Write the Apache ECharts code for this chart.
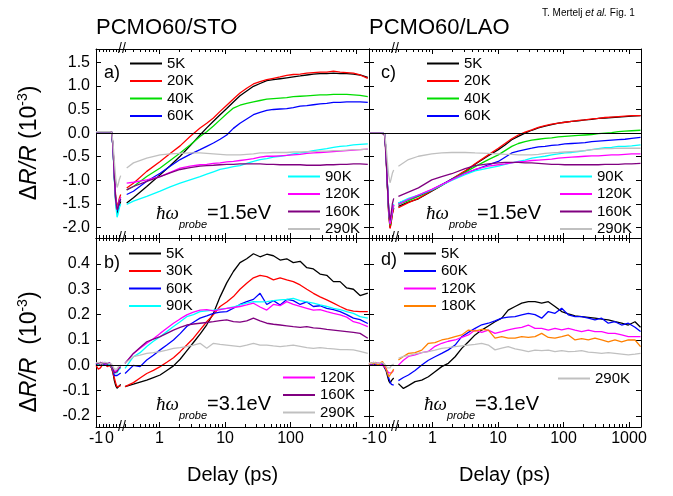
<!DOCTYPE html>
<html><head><meta charset="utf-8">
<script src="https://cdn.jsdelivr.net/npm/echarts@6/dist/echarts.min.js"></script>
<style>html,body{margin:0;padding:0;background:#fff}#c{width:673px;height:496px}</style>
</head><body><div id="c"></div>
<script>
// ---------------- DATA ----------------
// tick labels
const yTicksTop = [-2, -1.5, -1, -0.5, 0, 0.5, 1, 1.5];
const yTicksBot = [-0.2, -0.1, 0, 0.1, 0.2, 0.3, 0.4];
const xLinLabels = [-1, 0];
const xLinTicks = [-1, -0.75, -0.5, -0.25, 0, 0.25, 0.5, 0.75];
const xLogLabelsLeft = [1, 10, 100];
const xLogLabelsRight = [1, 10, 100, 1000];
const xLogMajor = [1, 10, 100, 1000];

// delay grids (ps)
const tLinAC = [-1, -0.8, -0.6, -0.4, -0.2, 0, 0.16, 0.26, 0.36, 0.46, 0.56, 0.63, 0.73, 0.83];
const tLinBD = [-1, -0.83, -0.67, -0.5, -0.33, -0.17, 0, 0.16, 0.26, 0.36, 0.46, 0.56, 0.66, 0.83];
const tLogA = [0.315,0.399,0.637,1.02,1.45,2.06,2.92,4.15,5.25,6.64,8.39,10.6,13.4,16.9,21.4,27.1,34.2,43.3,54.7,69.2,87.4,110,140,177,223,282,357,451,570,720,910,1151,1510];
const tLogB = [0.297,0.399,0.504,0.637,0.805,1.02,1.29,1.63,2.06,2.60,3.29,4.15,5.25,6.64,8.39,10.6,13.4,16.9,21.4,27.1,34.2,43.3,54.7,69.2,87.4,110,140,177,223,282,357,451,570,720,910,1151,1510];
const tLogC = [0.301,0.428,0.608,0.971,1.38,1.96,3.14,4.46,7.11,10.1,12.8,16.2,20.4,25.8,32.7,41.3,52.2,65.9,83.4,105,133,168,213,269,340,430,543,687,868,1099,1500];
const tLogD = [0.301,0.359,0.428,0.541,0.684,0.863,1.09,1.38,1.74,2.21,2.79,3.53,4.46,5.63,7.11,8.99,11.4,14.3,18.2,23.0,29.0,36.7,46.4,58.6,74.1,93.8,118.5,150,189,239,302,382,483,611,772,976,1236,1500];

// Panel a) PCMO60/STO, 1.5 eV
const aLin5K   = [0.03,0.03,0.03,0.03,0.03,0.03,0.02,-0.3,-0.95,-1.45,-1.70,-1.65,-1.52,-1.45];
const aLin20K  = [0.03,0.03,0.03,0.03,0.03,0.03,0.02,-0.28,-0.88,-1.35,-1.55,-1.5,-1.38,-1.3];
const aLin40K  = [0.03,0.03,0.03,0.03,0.03,0.03,0.02,-0.3,-0.9,-1.4,-1.62,-1.58,-1.42,-1.35];
const aLin60K  = [0.03,0.03,0.03,0.03,0.03,0.03,0.02,-0.3,-0.92,-1.42,-1.65,-1.6,-1.46,-1.4];
const aLin90K  = [0.03,0.03,0.03,0.03,0.03,0.03,0.02,-0.32,-0.98,-1.5,-1.78,-1.72,-1.58,-1.5];
const aLin120K = [0.03,0.03,0.03,0.03,0.03,0.03,0.02,-0.3,-0.9,-1.4,-1.6,-1.55,-1.42,-1.35];
const aLin160K = [0.03,0.03,0.03,0.03,0.03,0.03,0.02,-0.3,-0.92,-1.42,-1.62,-1.57,-1.45,-1.4];
const aLin290K = [0.03,0.03,0.03,0.03,0.03,0.03,0.02,-0.2,-0.6,-0.95,-1.15,-1.1,-0.98,-0.9];
const aLog5K   = [-1.48,-1.37,-1.13,-0.88,-0.69,-0.49,-0.27,-0.04,0.11,0.25,0.39,0.52,0.66,0.79,0.89,0.99,1.05,1.11,1.13,1.15,1.17,1.19,1.21,1.23,1.25,1.26,1.26,1.27,1.26,1.26,1.25,1.23,1.18];
const aLog20K  = [-1.16,-1.06,-0.81,-0.60,-0.43,-0.27,-0.07,0.11,0.21,0.32,0.46,0.59,0.72,0.85,0.95,1.04,1.09,1.13,1.16,1.19,1.22,1.24,1.25,1.27,1.28,1.29,1.29,1.31,1.29,1.28,1.27,1.23,1.16];
const aLog40K  = [-1.20,-1.13,-0.92,-0.74,-0.58,-0.42,-0.25,-0.07,0.03,0.15,0.28,0.41,0.53,0.59,0.63,0.66,0.69,0.72,0.73,0.74,0.75,0.77,0.78,0.79,0.80,0.81,0.81,0.82,0.82,0.82,0.81,0.80,0.77];
const aLog60K  = [-1.30,-1.23,-1.02,-0.85,-0.70,-0.56,-0.45,-0.35,-0.28,-0.21,-0.13,-0.04,0.10,0.21,0.30,0.39,0.44,0.48,0.50,0.51,0.52,0.54,0.57,0.58,0.60,0.62,0.63,0.65,0.65,0.66,0.66,0.66,0.65];
const aLog90K  = [-1.51,-1.44,-1.34,-1.23,-1.14,-1.06,-0.99,-0.92,-0.87,-0.82,-0.77,-0.74,-0.71,-0.69,-0.64,-0.60,-0.56,-0.54,-0.51,-0.49,-0.47,-0.44,-0.42,-0.40,-0.37,-0.35,-0.33,-0.30,-0.28,-0.27,-0.25,-0.24,-0.23];
const aLog120K = [-1.06,-1.04,-0.99,-0.92,-0.83,-0.74,-0.70,-0.67,-0.66,-0.64,-0.63,-0.61,-0.60,-0.58,-0.56,-0.54,-0.51,-0.49,-0.49,-0.48,-0.47,-0.46,-0.45,-0.43,-0.42,-0.41,-0.40,-0.39,-0.38,-0.37,-0.36,-0.35,-0.34];
const aLog160K = [-1.20,-1.13,-1.02,-0.92,-0.84,-0.77,-0.73,-0.70,-0.69,-0.68,-0.67,-0.66,-0.66,-0.65,-0.65,-0.65,-0.65,-0.66,-0.66,-0.67,-0.67,-0.67,-0.67,-0.68,-0.68,-0.68,-0.67,-0.67,-0.66,-0.66,-0.65,-0.65,-0.66];
const aLog290K = [-0.74,-0.63,-0.53,-0.46,-0.44,-0.43,-0.42,-0.42,-0.43,-0.44,-0.45,-0.46,-0.46,-0.46,-0.45,-0.44,-0.42,-0.42,-0.41,-0.41,-0.41,-0.40,-0.40,-0.39,-0.39,-0.38,-0.38,-0.37,-0.37,-0.36,-0.35,-0.35,-0.34];

// Panel b) PCMO60/STO, 3.1 eV
const bLin5K   = [0.005,0.0,0.008,0.003,0.0,0.005,0.002,-0.01,-0.03,-0.06,-0.08,-0.09,-0.085,-0.075];
const bLin30K  = [0.0,-0.015,-0.01,0.005,0.005,-0.005,0.0,-0.01,-0.03,-0.05,-0.07,-0.085,-0.085,-0.08];
const bLin60K  = [0.005,0.01,0.008,0.01,0.0,0.005,0.01,-0.005,-0.02,-0.04,-0.045,-0.04,-0.035,-0.03];
const bLin90K  = [0.01,0.005,0.01,0.005,0.012,0.0,0.005,-0.005,-0.015,-0.03,-0.035,-0.03,-0.02,-0.01];
const bLin120K = [0.008,0.01,0.005,0.012,0.005,0.008,0.01,0.0,-0.01,-0.025,-0.03,-0.02,-0.01,0.0];
const bLin160K = [0.01,0.008,0.012,0.008,0.01,0.005,0.01,0.0,-0.015,-0.03,-0.035,-0.025,-0.015,-0.005];
const bLin290K = [0.01,0.012,0.008,0.01,0.012,0.01,0.008,0.005,-0.005,-0.015,-0.02,-0.015,-0.005,0.0];
const bLog5K   = [-0.084,-0.074,-0.066,-0.058,-0.048,-0.038,-0.02,-0.002,0.024,0.057,0.09,0.123,0.16,0.205,0.27,0.325,0.37,0.405,0.42,0.44,0.428,0.438,0.432,0.415,0.42,0.405,0.41,0.385,0.38,0.36,0.355,0.33,0.33,0.305,0.30,0.275,0.285];
const bLog30K  = [-0.084,-0.068,-0.05,-0.032,-0.02,-0.005,0.012,0.03,0.054,0.08,0.107,0.14,0.172,0.2,0.232,0.25,0.271,0.3,0.324,0.345,0.355,0.35,0.337,0.345,0.337,0.33,0.317,0.30,0.284,0.27,0.258,0.245,0.232,0.22,0.214,0.212,0.212];
const bLog60K  = [-0.032,0.0,-0.005,0.021,0.04,0.061,0.08,0.10,0.125,0.153,0.17,0.186,0.195,0.205,0.21,0.212,0.225,0.24,0.251,0.26,0.284,0.24,0.255,0.238,0.26,0.255,0.24,0.25,0.232,0.235,0.225,0.22,0.212,0.2,0.186,0.18,0.165];
const bLog90K  = [-0.012,0.034,0.05,0.074,0.095,0.113,0.133,0.153,0.172,0.192,0.2,0.212,0.215,0.218,0.222,0.225,0.23,0.238,0.245,0.251,0.25,0.251,0.255,0.258,0.26,0.264,0.255,0.25,0.245,0.238,0.232,0.225,0.22,0.212,0.205,0.192,0.186];
const bLog120K = [0.008,0.047,0.067,0.087,0.105,0.126,0.146,0.166,0.183,0.199,0.21,0.218,0.22,0.215,0.22,0.225,0.228,0.232,0.238,0.245,0.23,0.218,0.24,0.235,0.251,0.24,0.232,0.225,0.218,0.22,0.212,0.205,0.199,0.19,0.172,0.165,0.153];
const bLog160K = [0.008,0.047,0.07,0.093,0.103,0.113,0.126,0.139,0.15,0.159,0.163,0.166,0.169,0.172,0.176,0.179,0.172,0.17,0.175,0.186,0.175,0.166,0.162,0.159,0.156,0.153,0.15,0.153,0.148,0.146,0.142,0.139,0.136,0.133,0.13,0.126,0.107];
const bLog290K = [0.008,0.034,0.04,0.047,0.05,0.054,0.06,0.067,0.07,0.074,0.08,0.087,0.067,0.087,0.083,0.08,0.077,0.074,0.08,0.087,0.08,0.08,0.077,0.074,0.077,0.08,0.075,0.07,0.067,0.07,0.067,0.065,0.062,0.062,0.061,0.055,0.047];

// Panel c) PCMO60/LAO, 1.5 eV
const cLin5K   = [0,0,0,0,0,0,-0.02,-0.4,-1.1,-1.7,-2.0,-1.9,-1.7,-1.58];
const cLin20K  = [0,0,0,0,0,0,-0.02,-0.42,-1.12,-1.72,-2.02,-1.92,-1.72,-1.6];
const cLin40K  = [0,0,0,0,0,0,-0.02,-0.4,-1.08,-1.65,-1.95,-1.85,-1.66,-1.55];
const cLin60K  = [0,0,0,0,0,0,-0.02,-0.4,-1.06,-1.62,-1.92,-1.82,-1.64,-1.52];
const cLin90K  = [0,0,0,0,0,0,-0.02,-0.4,-1.05,-1.6,-1.9,-1.8,-1.62,-1.5];
const cLin120K = [0,0,0,0,0,0,-0.02,-0.4,-1.06,-1.62,-1.92,-1.82,-1.64,-1.52];
const cLin160K = [0,0,0,0,0,-0.01,-0.05,-0.5,-1.1,-1.6,-1.85,-1.72,-1.5,-1.38];
const cLin290K = [0,0,0,0,0,0,-0.02,-0.25,-0.6,-0.9,-1.05,-0.98,-0.85,-0.78];
const cLog5K   = [-1.55,-1.46,-1.39,-1.23,-1.11,-0.98,-0.81,-0.66,-0.48,-0.35,-0.25,-0.14,-0.07,0.0,0.06,0.11,0.15,0.18,0.21,0.23,0.25,0.26,0.28,0.29,0.31,0.32,0.33,0.34,0.35,0.36,0.37];
const cLog20K  = [-1.58,-1.47,-1.38,-1.22,-1.10,-0.97,-0.80,-0.65,-0.46,-0.32,-0.22,-0.12,-0.04,0.02,0.07,0.12,0.16,0.19,0.21,0.23,0.25,0.27,0.28,0.30,0.31,0.33,0.34,0.35,0.36,0.37,0.37];
const cLog40K  = [-1.51,-1.43,-1.34,-1.21,-1.10,-0.98,-0.83,-0.71,-0.56,-0.46,-0.37,-0.28,-0.22,-0.18,-0.15,-0.13,-0.11,-0.10,-0.08,-0.07,-0.06,-0.05,-0.04,-0.03,-0.01,0.0,0.01,0.03,0.04,0.05,0.06];
const cLog60K  = [-1.48,-1.40,-1.32,-1.20,-1.09,-0.98,-0.85,-0.78,-0.67,-0.60,-0.51,-0.42,-0.38,-0.35,-0.32,-0.29,-0.28,-0.26,-0.25,-0.23,-0.22,-0.21,-0.20,-0.18,-0.17,-0.16,-0.15,-0.14,-0.13,-0.11,-0.09];
const cLog90K  = [-1.48,-1.38,-1.31,-1.20,-1.10,-1.00,-0.88,-0.80,-0.74,-0.70,-0.66,-0.63,-0.60,-0.57,-0.53,-0.51,-0.49,-0.46,-0.44,-0.42,-0.41,-0.39,-0.37,-0.35,-0.33,-0.31,-0.30,-0.28,-0.28,-0.27,-0.25];
const cLog120K = [-1.51,-1.40,-1.31,-1.19,-1.09,-0.99,-0.85,-0.77,-0.70,-0.67,-0.65,-0.63,-0.61,-0.60,-0.58,-0.57,-0.56,-0.55,-0.53,-0.52,-0.51,-0.50,-0.49,-0.48,-0.48,-0.47,-0.46,-0.46,-0.45,-0.44,-0.44];
const cLog160K = [-1.34,-1.25,-1.16,-0.99,-0.92,-0.86,-0.75,-0.69,-0.65,-0.63,-0.62,-0.62,-0.62,-0.63,-0.63,-0.64,-0.65,-0.66,-0.66,-0.67,-0.67,-0.67,-0.67,-0.67,-0.67,-0.66,-0.66,-0.66,-0.65,-0.65,-0.64];
const cLog290K = [-0.70,-0.56,-0.49,-0.44,-0.42,-0.41,-0.41,-0.42,-0.43,-0.44,-0.45,-0.45,-0.46,-0.46,-0.46,-0.45,-0.43,-0.42,-0.41,-0.40,-0.39,-0.38,-0.37,-0.35,-0.34,-0.33,-0.33,-0.32,-0.32,-0.32,-0.32];

// Panel d) PCMO60/LAO, 3.1 eV
const dLin5K   = [0.005,0.0,0.01,0.0,0.005,0.0,0.005,-0.01,-0.02,-0.04,-0.06,-0.07,-0.06,-0.05];
const dLin60K  = [0.005,0.008,0.0,0.01,0.005,0.0,0.008,-0.005,-0.015,-0.03,-0.05,-0.065,-0.075,-0.078];
const dLin120K = [0.008,0.005,0.012,0.005,0.01,0.005,0.0,-0.005,-0.015,-0.02,-0.03,-0.035,-0.03,-0.02];
const dLin180K = [0.005,0.01,0.005,0.012,0.0,0.01,0.015,0.0,-0.01,-0.03,-0.045,-0.04,-0.03,-0.015];
const dLin290K = [0.01,0.008,0.012,0.01,0.008,0.01,0.01,0.005,0.0,-0.01,-0.015,-0.01,0.0,0.005];
const dLog5K   = [-0.072,-0.091,-0.08,-0.064,-0.058,-0.045,-0.025,-0.005,0.008,0.034,0.067,0.093,0.12,0.139,0.155,0.172,0.186,0.218,0.232,0.245,0.251,0.251,0.245,0.251,0.232,0.212,0.203,0.195,0.192,0.189,0.186,0.182,0.179,0.172,0.166,0.159,0.172,0.15];
const dLog60K  = [-0.06,-0.048,-0.038,-0.02,0.001,0.02,0.034,0.047,0.061,0.08,0.113,0.13,0.146,0.16,0.166,0.175,0.186,0.19,0.192,0.199,0.205,0.2,0.186,0.212,0.205,0.225,0.199,0.192,0.192,0.186,0.179,0.186,0.166,0.172,0.159,0.166,0.15,0.133];
const dLog120K = [0.001,0.02,0.035,0.041,0.05,0.055,0.075,0.087,0.095,0.10,0.11,0.12,0.139,0.13,0.139,0.126,0.133,0.14,0.146,0.15,0.159,0.146,0.146,0.139,0.146,0.14,0.146,0.139,0.133,0.139,0.133,0.133,0.126,0.126,0.12,0.113,0.113,0.113];
const dLog180K = [0.021,0.035,0.047,0.05,0.06,0.087,0.09,0.1,0.105,0.113,0.12,0.139,0.135,0.142,0.139,0.107,0.113,0.107,0.107,0.113,0.11,0.113,0.126,0.11,0.107,0.113,0.12,0.1,0.105,0.1,0.107,0.1,0.093,0.1,0.093,0.1,0.1,0.074];
const dLog290K = [0.028,0.035,0.038,0.045,0.05,0.054,0.06,0.067,0.07,0.074,0.077,0.08,0.083,0.087,0.08,0.061,0.068,0.074,0.065,0.06,0.054,0.06,0.058,0.06,0.054,0.058,0.054,0.055,0.058,0.052,0.05,0.047,0.05,0.047,0.044,0.041,0.044,0.047];

// ---------------- STYLE / LAYOUT ----------------
const FONT = 'Liberation Sans';
const COLORS = {'5K':'#000000','20K':'#ff0000','30K':'#ff0000','40K':'#00dd00','60K':'#0000ff',
  '90K':'#00ffff','120K':'#ff00ff','160K':'#800080','180K':'#ff8000','290K':'#c0c0c0'};

function pairs(t, v) { return t.map((x, i) => [x, v[i]]); }

const LIN_W = 26;
const panels = [
  { x0: 96, logW: 247, top: 49, height: 189, yMin: -2.22, yMax: 1.78, yTicks: yTicksTop, yLabels: true,
    xLabels: false, logMax: 1575, logLabels: xLogLabelsLeft, tLin: tLinAC, tLog: tLogA,
    series: [['5K',aLin5K,aLog5K],['20K',aLin20K,aLog20K],['40K',aLin40K,aLog40K],['60K',aLin60K,aLog60K],
             ['90K',aLin90K,aLog90K],['120K',aLin120K,aLog120K],['160K',aLin160K,aLog160K],['290K',aLin290K,aLog290K]] },
  { x0: 96, logW: 247, top: 238, height: 189, yMin: -0.243, yMax: 0.502, yTicks: yTicksBot, yLabels: true,
    xLabels: true, logMax: 1575, logLabels: xLogLabelsLeft, tLin: tLinBD, tLog: tLogB,
    series: [['5K',bLin5K,bLog5K],['30K',bLin30K,bLog30K],['60K',bLin60K,bLog60K],['90K',bLin90K,bLog90K],
             ['120K',bLin120K,bLog120K],['160K',bLin160K,bLog160K],['290K',bLin290K,bLog290K]] },
  { x0: 369, logW: 246, top: 49, height: 189, yMin: -2.22, yMax: 1.78, yTicks: yTicksTop, yLabels: false,
    xLabels: false, logMax: 1525, logLabels: xLogLabelsRight, tLin: tLinAC, tLog: tLogC,
    series: [['5K',cLin5K,cLog5K],['20K',cLin20K,cLog20K],['40K',cLin40K,cLog40K],['60K',cLin60K,cLog60K],
             ['90K',cLin90K,cLog90K],['120K',cLin120K,cLog120K],['160K',cLin160K,cLog160K],['290K',cLin290K,cLog290K]] },
  { x0: 369, logW: 246, top: 238, height: 189, yMin: -0.243, yMax: 0.502, yTicks: yTicksBot, yLabels: false,
    xLabels: true, logMax: 1525, logLabels: xLogLabelsRight, tLin: tLinBD, tLog: tLogD,
    series: [['5K',dLin5K,dLog5K],['60K',dLin60K,dLog60K],['120K',dLin120K,dLog120K],['180K',dLin180K,dLog180K],
             ['290K',dLin290K,dLog290K]] }
];
const LOG_MIN = 0.267;

function logMinorValues(max) {
  const out = [];
  [0.1, 1, 10, 100, 1000].forEach(d => { for (let m = 2; m <= 9; m++) { const v = +(d * m).toPrecision(3); if (v > LOG_MIN && v < max) out.push(v); } });
  return out;
}

const lab = { color: '#000', fontFamily: FONT, fontSize: 16 };
const grids = [], xAxes = [], yAxes = [], series = [];

panels.forEach(p => {
  const gL = grids.length;
  grids.push({ left: p.x0, top: p.top, width: LIN_W, height: p.height });
  grids.push({ left: p.x0 + LIN_W, top: p.top, width: p.logW, height: p.height });
  const gG = gL + 1;
  const linMax = -1 + LIN_W / 13.5;
  const axLin = xAxes.length;
  ['bottom', 'top'].forEach(pos => {
    xAxes.push({ type: 'value', gridIndex: gL, position: pos, min: -1, max: linMax,
      splitLine: { show: false },
      axisLine: { show: true, onZero: false, lineStyle: { color: '#000', width: 1 } },
      axisTick: { show: true, inside: true, length: 3, customValues: xLinTicks, lineStyle: { color: '#000' } },
      axisLabel: { show: pos === 'bottom' && p.xLabels, customValues: xLinLabels, margin: 4,
        formatter: v => String(v), ...lab } });
  });
  const axLog = xAxes.length;
  ['bottom', 'top'].forEach(pos => {
    xAxes.push({ type: 'log', gridIndex: gG, position: pos, min: LOG_MIN, max: p.logMax, logBase: 10,
      splitLine: { show: false },
      axisLine: { show: true, onZero: false, lineStyle: { color: '#000', width: 1 } },
      axisTick: { show: true, inside: true, length: 5, customValues: xLogMajor, lineStyle: { color: '#000' } },
      axisLabel: { show: pos === 'bottom' && p.xLabels, customValues: p.logLabels, margin: 4,
        formatter: v => String(Math.round(v)), ...lab } });
  });
  ['bottom', 'top'].forEach(pos => {
    xAxes.push({ type: 'log', gridIndex: gG, position: pos, min: LOG_MIN, max: p.logMax, logBase: 10,
      splitLine: { show: false }, axisLine: { show: false, onZero: false },
      axisTick: { show: true, inside: true, length: 3, customValues: logMinorValues(p.logMax), lineStyle: { color: '#000' } },
      axisLabel: { show: false } });
  });
  const yL = yAxes.length;
  [[gL, 'left', p.yLabels], [gG, 'right', false]].forEach(([gi, pos, showLab]) => {
    yAxes.push({ type: 'value', gridIndex: gi, position: pos, min: p.yMin, max: p.yMax,
      splitLine: { show: false },
      axisLine: { show: true, onZero: false, lineStyle: { color: '#000', width: 1 } },
      axisTick: { show: true, inside: true, length: 5, customValues: p.yTicks, lineStyle: { color: '#000' } },
      axisLabel: { show: showLab, customValues: p.yTicks, margin: 6, formatter: v => Number(v).toFixed(1), ...lab } });
  });
  const zeroLine = { silent: true, symbol: ['none', 'none'], label: { show: false },
    lineStyle: { color: '#000', width: 1, type: 'solid' }, data: [{ yAxis: 0 }], animation: false };
  p.series.forEach(([name, lin, log], si) => {
    const c = COLORS[name];
    const base = { type: 'line', name, symbol: 'none', showSymbol: false, color: c,
      lineStyle: { color: c, width: 1.3 }, itemStyle: { color: c }, animation: false, z: 3 };
    series.push({ ...base, xAxisIndex: axLin, yAxisIndex: yL, data: pairs(p.tLin, lin),
      markLine: si === 0 ? zeroLine : undefined });
    series.push({ ...base, xAxisIndex: axLog, yAxisIndex: yL + 1, data: pairs(p.tLog, log),
      markLine: si === 0 ? zeroLine : undefined });
  });
});

function leg(names, left, top) {
  return { data: names, left, top, orient: 'vertical', icon: 'rect', itemWidth: 32, itemHeight: 2,
    itemGap: 2.5, padding: 0, selectedMode: false,
    textStyle: { fontFamily: FONT, fontSize: 15, color: '#000' } };
}
const legends = [
  leg(['5K','20K','40K','60K'], 130, 56), leg(['90K','120K','160K','290K'], 288, 169),
  leg(['5K','30K','60K','90K'], 129, 246), leg(['120K','160K','290K'], 283, 370),
  leg(['5K','20K','40K','60K'], 427, 56), leg(['90K','120K','160K','290K'], 560, 169),
  leg(['5K','60K','120K','180K'], 404, 246), leg(['290K'], 558, 371)
];

const txt = (text, left, top, size, extra) => ({ text, left, top, padding: 0,
  textStyle: { fontFamily: FONT, fontSize: size, fontWeight: 'normal', color: '#000', ...(extra || {}) } });
const probeRich = {
  h: { fontFamily: 'Liberation Serif', fontStyle: 'italic', fontSize: 19, lineHeight: 33, color: '#000' },
  s: { fontFamily: FONT, fontStyle: 'italic', fontSize: 11, verticalAlign: 'bottom', lineHeight: 33, color: '#000' },
  n: { fontFamily: FONT, fontSize: 20, lineHeight: 33, color: '#000' }
};
const titles = [
  txt('PCMO60/STO', 96, 17, 22), txt('PCMO60/LAO', 369, 17, 22),
  txt('{n|T. Mertelj }{i|et al.}{n| Fig. 1}', 542, 8, 10, { rich: {
    n: { fontFamily: FONT, fontSize: 10, color: '#000' },
    i: { fontFamily: FONT, fontSize: 10, fontStyle: 'italic', color: '#000' } } }),
  txt('a)', 104, 64, 18), txt('b)', 104, 254, 18), txt('c)', 381, 64, 18), txt('d)', 381, 251, 18),
  txt('{h|ħω}{s|probe}{n|=1.5eV}', 156, 197, 20, { rich: probeRich }),
  txt('{h|ħω}{s|probe}{n|=1.5eV}', 426, 197, 20, { rich: probeRich }),
  txt('{h|ħω}{s|probe}{n|=3.1eV}', 156, 388, 20, { rich: probeRich }),
  txt('{h|ħω}{s|probe}{n|=3.1eV}', 424, 388, 20, { rich: probeRich }),
  txt('Delay (ps)', 187, 465, 20), txt('Delay (ps)', 459, 465, 20)
];

const yRich = {
  n: { fontFamily: FONT, fontSize: 23, color: '#000', lineHeight: 28 },
  i: { fontFamily: FONT, fontSize: 23, fontStyle: 'italic', color: '#000', lineHeight: 28 },
  sup: { fontFamily: FONT, fontSize: 14, color: '#000', verticalAlign: 'top', lineHeight: 28 }
};
const brk = (x, y) => ({ type: 'text', x, y, z: 10,
  style: { text: '//', font: '14px "Liberation Sans"', fill: '#000', align: 'center', verticalAlign: 'middle' } });
const graphic = [
  { type: 'text', x: 30, y: 143, rotation: Math.PI / 2, z: 10,
    style: { text: '{n|Δ}{i|R/R}{n| (10}{sup|-3}{n|)}', rich: yRich, align: 'center', verticalAlign: 'middle' } },
  { type: 'text', x: 30, y: 352, rotation: Math.PI / 2, z: 10,
    style: { text: '{n|Δ}{i|R/R}{n|  (10}{sup|-3}{n|)}', rich: yRich, align: 'center', verticalAlign: 'middle' } },
  brk(122, 49), brk(122, 238), brk(122, 427), brk(395, 49), brk(395, 238), brk(395, 427)
];

const chart = echarts.init(document.getElementById('c'), null, { renderer: 'canvas' });
chart.setOption({
  animation: false, backgroundColor: '#fff',
  title: titles, legend: legends, grid: grids, xAxis: xAxes, yAxis: yAxes, series, graphic
});
</script></body></html>
